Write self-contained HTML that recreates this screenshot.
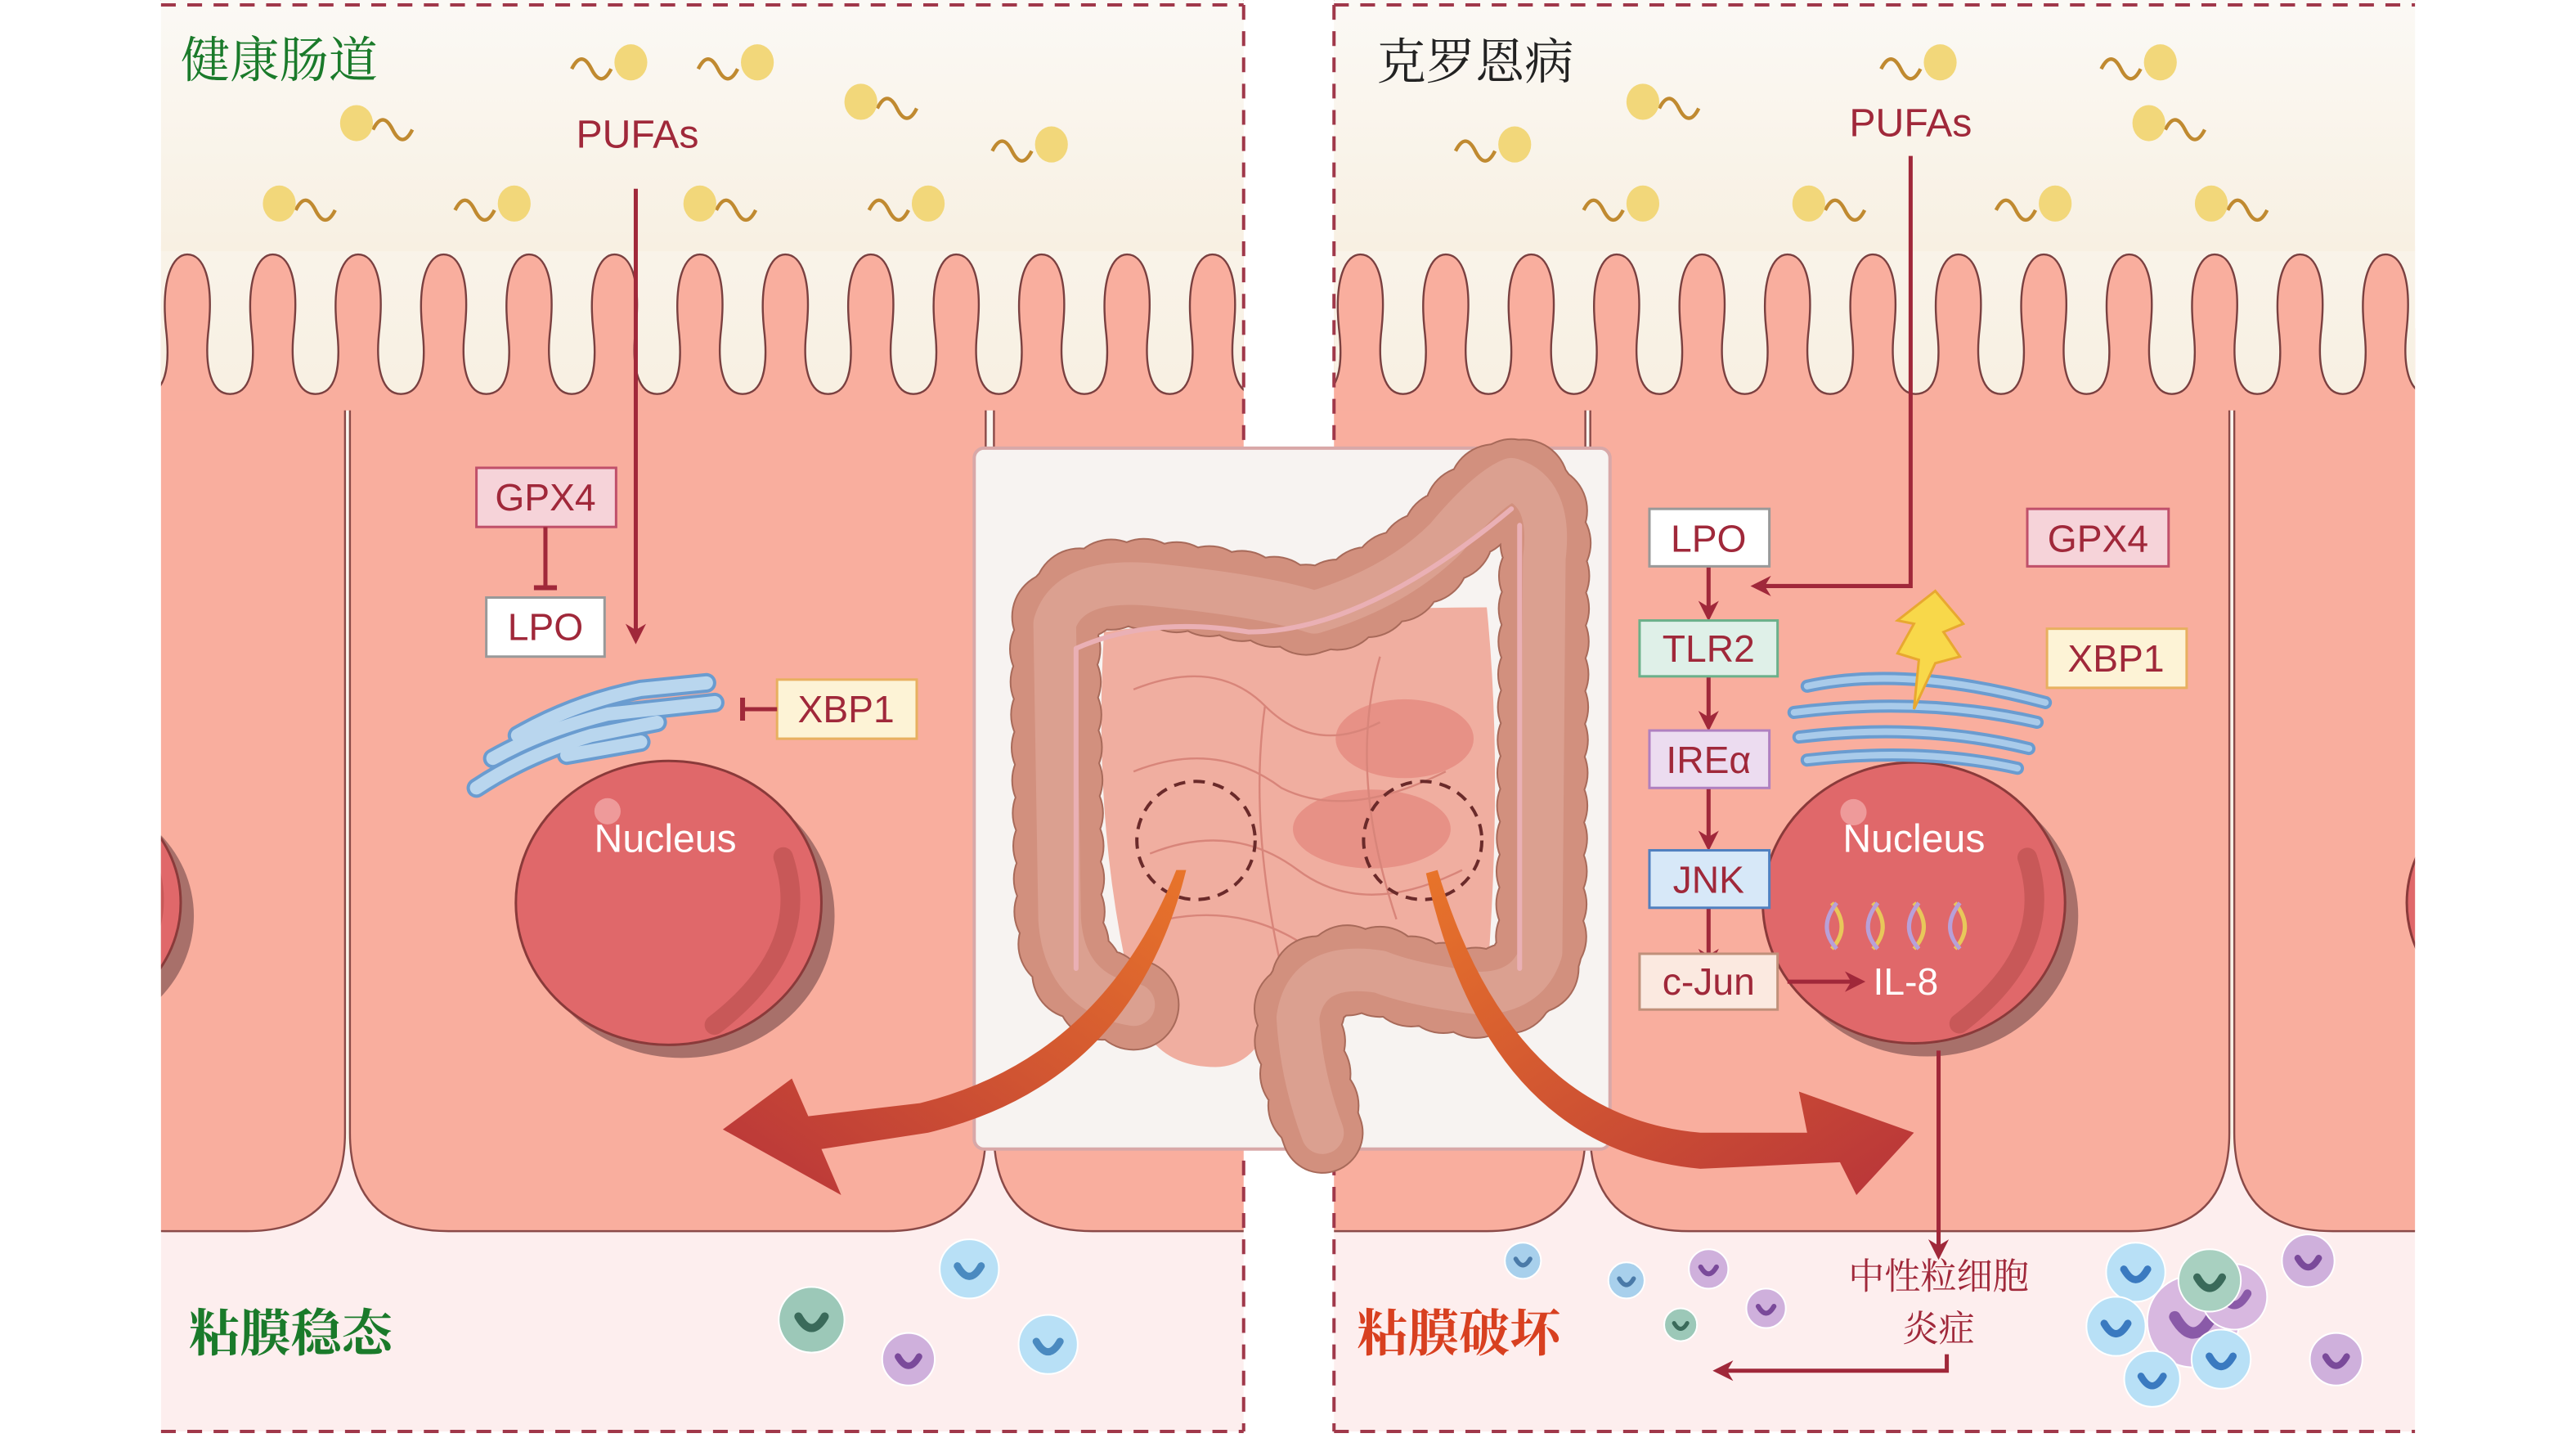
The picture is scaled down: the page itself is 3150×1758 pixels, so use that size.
<!DOCTYPE html>
<html><head><meta charset="utf-8">
<style>
html,body{margin:0;padding:0;background:#fff;}
svg{display:block;}
text{font-family:"Liberation Sans","Noto Sans CJK SC",sans-serif;}
.cn{font-family:"Noto Serif CJK SC","Noto Sans CJK SC",serif;}
</style></head>
<body>
<svg id="s" width="3150" height="1758" viewBox="0 0 1568 876" preserveAspectRatio="none" xmlns="http://www.w3.org/2000/svg">
<defs>
<clipPath id="cl"><rect x="98" y="0" width="659" height="872"/></clipPath>
<clipPath id="cr"><rect x="812" y="0" width="658" height="872"/></clipPath>
<linearGradient id="top" x1="0" y1="0" x2="0" y2="1"><stop offset="0" stop-color="#fbf9f5"/><stop offset="1" stop-color="#f8f0e2"/></linearGradient>
<linearGradient id="arL" x1="1" y1="0" x2="0" y2="1"><stop offset="0" stop-color="#e8742a"/><stop offset="1" stop-color="#b8343a"/></linearGradient>
<linearGradient id="arR" x1="0" y1="0" x2="1" y2="1"><stop offset="0" stop-color="#e8742a"/><stop offset="1" stop-color="#b8343a"/></linearGradient>
<marker id="ah" viewBox="0 0 10 10" refX="8" refY="5" markerWidth="5" markerHeight="5" orient="auto"><path d="M0,0 L10,5 L0,10 L3,5 Z" fill="#a0283a"/></marker>
</defs>
<g id="panels"></g>

<!-- center box -->
<rect x="593" y="273" width="387" height="427" rx="6" fill="#f7f3f1" stroke="#d8a8a8" stroke-width="2"/>
<!-- small intestine -->
<path d="M672,385 Q780,370 905,370 Q915,470 905,600 Q840,610 780,600 Q770,650 740,650 Q695,650 688,600 Q665,500 672,385Z" fill="#f0aea0"/>
<ellipse cx="855" cy="450" rx="42" ry="24" fill="#e58a80" opacity="0.8"/>
<ellipse cx="835" cy="505" rx="48" ry="24" fill="#e58a80" opacity="0.8"/>
<g fill="none" stroke="#d8857a" stroke-width="1.2">
<path d="M690,420 Q740,400 770,430 Q800,460 840,440"/><path d="M690,470 Q740,450 780,480 Q820,500 880,470"/><path d="M700,520 Q750,500 790,530 Q830,560 890,530"/><path d="M710,560 Q760,550 800,580"/><path d="M770,430 Q760,500 780,590"/><path d="M840,400 Q820,470 850,560"/>
</g>
<!-- colon -->
<g fill="none" stroke-linecap="round" stroke-linejoin="round">
<path id="col" d="M690,612 Q648,605 645,560 L642,380 Q650,352 700,356 Q770,363 800,373 Q850,358 880,328 Q905,298 920,292 Q945,300 940,340 L938,580 Q930,605 900,605 Q860,600 840,592 Q795,585 790,620 Q792,655 805,690" stroke="#a86a5a" stroke-width="50"/>
<path d="M690,612 Q648,605 645,560 L642,380 Q650,352 700,356 Q770,363 800,373 Q850,358 880,328 Q905,298 920,292 Q945,300 940,340 L938,580 Q930,605 900,605 Q860,600 840,592 Q795,585 790,620 Q792,655 805,690" stroke="#a86a5a" stroke-width="56" stroke-dasharray="0,20"/>
<path d="M690,612 Q648,605 645,560 L642,380 Q650,352 700,356 Q770,363 800,373 Q850,358 880,328 Q905,298 920,292 Q945,300 940,340 L938,580 Q930,605 900,605 Q860,600 840,592 Q795,585 790,620 Q792,655 805,690" stroke="#d2907e" stroke-width="48"/>
<path d="M690,612 Q648,605 645,560 L642,380 Q650,352 700,356 Q770,363 800,373 Q850,358 880,328 Q905,298 920,292 Q945,300 940,340 L938,580 Q930,605 900,605 Q860,600 840,592 Q795,585 790,620 Q792,655 805,690" stroke="#d2907e" stroke-width="54" stroke-dasharray="0,20"/>
<path d="M690,612 Q648,605 645,560 L642,380 Q650,352 700,356 Q770,363 800,373 Q850,358 880,328 Q905,298 920,292 Q945,300 940,340 L938,580 Q930,605 900,605 Q860,600 840,592 Q795,585 790,620 Q792,655 805,690" stroke="#dba090" stroke-width="26"/>
<path d="M655,590 L655,395 Q700,375 760,385 Q830,385 920,310 M925,320 L925,590" stroke="#eab0b5" stroke-width="3"/>
</g>
<circle cx="728" cy="512" r="36" fill="none" stroke="#6a2a2a" stroke-width="2" stroke-dasharray="7,5"/>
<circle cx="866" cy="512" r="36" fill="none" stroke="#6a2a2a" stroke-width="2" stroke-dasharray="7,5"/>
<!-- big curved arrows -->
<path d="M722,530 Q690,660 565,690 L500,700 L512,728 L440,688 L482,657 L492,680 L560,672 Q670,645 716,530Z" fill="url(#arL)"/>
<path d="M875,530 Q920,680 1035,690 L1100,690 L1095,665 L1165,690 L1130,728 L1120,708 L1035,712 Q905,700 868,532Z" fill="url(#arR)"/>

<!-- titles -->
<text x="110" y="47" class="cn" font-size="30" fill="#1a7a2a">健康肠道</text>
<text x="838" y="48" class="cn" font-size="30" fill="#222">克罗恩病</text>
<text x="115" y="823" class="cn" font-size="31" fill="#1a7a2a" font-weight="bold">粘膜稳态</text>
<text x="826" y="823" class="cn" font-size="31" fill="#d84020" font-weight="bold">粘膜破坏</text>

<!-- left pathway -->
<text x="388" y="90" font-size="24" fill="#a0283a" text-anchor="middle">PUFAs</text>
<line x1="387" y1="115" x2="387" y2="390" stroke="#a0283a" stroke-width="2.5" marker-end="url(#ah)"/>
<rect x="290" y="285" width="85" height="36" fill="#f6d3d9" stroke="#c0506a" stroke-width="1.5"/>
<text x="332" y="311" font-size="23" fill="#a0283a" text-anchor="middle">GPX4</text>
<line x1="332" y1="321" x2="332" y2="358" stroke="#a0283a" stroke-width="2.5"/><line x1="325" y1="358" x2="339" y2="358" stroke="#a0283a" stroke-width="3"/>
<rect x="296" y="364" width="72" height="36" fill="#fff" stroke="#999" stroke-width="1.5"/>
<text x="332" y="390" font-size="23" fill="#a0283a" text-anchor="middle">LPO</text>
<rect x="473" y="414" width="85" height="36" fill="#fdf3d6" stroke="#e8b060" stroke-width="1.5"/>
<text x="515" y="440" font-size="23" fill="#a0283a" text-anchor="middle">XBP1</text>
<line x1="473" y1="432" x2="452" y2="432" stroke="#a0283a" stroke-width="2.5"/><line x1="452" y1="425" x2="452" y2="439" stroke="#a0283a" stroke-width="3"/>
<!-- left ER -->
<g fill="none" stroke="#6a9cd0" stroke-width="12" stroke-linecap="round">
<path d="M290,480 Q320,460 360,448 L400,440"/><path d="M300,462 Q330,445 370,435 L435,428"/><path d="M315,448 Q350,428 390,420 L430,416"/><path d="M345,460 L390,452"/>
</g>
<g fill="none" stroke="#b9d6ee" stroke-width="8" stroke-linecap="round">
<path d="M290,480 Q320,460 360,448 L400,440"/><path d="M300,462 Q330,445 370,435 L435,428"/><path d="M315,448 Q350,428 390,420 L430,416"/><path d="M345,460 L390,452"/>
</g>

<!-- right pathway -->
<text x="1163" y="83" font-size="24" fill="#a0283a" text-anchor="middle">PUFAs</text>
<polyline points="1163,95 1163,357 1068,357" fill="none" stroke="#a0283a" stroke-width="2.5" marker-end="url(#ah)"/>
<g stroke="#a0283a" stroke-width="2.5" marker-end="url(#ah)">
<line x1="1040" y1="345" x2="1040" y2="376"/><line x1="1040" y1="412" x2="1040" y2="443"/><line x1="1040" y1="480" x2="1040" y2="516"/><line x1="1040" y1="553" x2="1040" y2="588"/><line x1="1088" y1="598" x2="1133" y2="598"/>
</g>
<rect x="1004" y="310" width="73" height="35" fill="#fff" stroke="#999" stroke-width="1.5"/><text x="1040" y="336" font-size="23" fill="#a0283a" text-anchor="middle">LPO</text>
<rect x="998" y="378" width="84" height="34" fill="#dff0e8" stroke="#6bb08a" stroke-width="1.5"/><text x="1040" y="403" font-size="23" fill="#a0283a" text-anchor="middle">TLR2</text>
<rect x="1004" y="445" width="73" height="35" fill="#ecdcf0" stroke="#b080c0" stroke-width="1.5"/><text x="1040" y="471" font-size="23" fill="#a0283a" text-anchor="middle">IREα</text>
<rect x="1004" y="518" width="73" height="35" fill="#d7e8f8" stroke="#5080c0" stroke-width="1.5"/><text x="1040" y="544" font-size="23" fill="#a0283a" text-anchor="middle">JNK</text>
<rect x="998" y="581" width="84" height="34" fill="#fbe9e0" stroke="#c0907a" stroke-width="1.5"/><text x="1040" y="606" font-size="23" fill="#a0283a" text-anchor="middle">c-Jun</text>
<rect x="1234" y="310" width="86" height="35" fill="#f6d3d9" stroke="#c0506a" stroke-width="1.5"/><text x="1277" y="336" font-size="23" fill="#a0283a" text-anchor="middle">GPX4</text>
<rect x="1246" y="383" width="85" height="36" fill="#fdf3d6" stroke="#e8b060" stroke-width="1.5"/><text x="1288" y="409" font-size="23" fill="#a0283a" text-anchor="middle">XBP1</text>
<!-- right ER -->
<g fill="none" stroke="#6a9cd0" stroke-width="8" stroke-linecap="round">
<path d="M1100,418 Q1160,405 1245,428"/><path d="M1092,434 Q1170,424 1240,440"/><path d="M1095,449 Q1170,440 1235,456"/><path d="M1100,463 Q1170,455 1228,468"/>
</g>
<g fill="none" stroke="#a9cbea" stroke-width="4" stroke-linecap="round">
<path d="M1100,418 Q1160,405 1245,428"/><path d="M1092,434 Q1170,424 1240,440"/><path d="M1095,449 Q1170,440 1235,456"/><path d="M1100,463 Q1170,455 1228,468"/>
</g>
<path d="M1178,360 L1195,380 L1183,385 L1193,400 L1178,404 L1165,432 L1168,402 L1155,398 L1165,380 L1155,378Z" fill="#f8d84a" stroke="#e8a830" stroke-width="1.5"/>

<!-- right bottom -->
<line x1="1180" y1="640" x2="1180" y2="765" stroke="#a0283a" stroke-width="2.5" marker-end="url(#ah)"/>
<text x="1180" y="785" class="cn" font-size="22" fill="#a0283a" text-anchor="middle">中性粒细胞</text>
<text x="1180" y="817" class="cn" font-size="22" fill="#a0283a" text-anchor="middle">炎症</text>
<polyline points="1185,825 1185,835 1045,835" fill="none" stroke="#a0283a" stroke-width="2.5" marker-end="url(#ah)"/>
</svg>
<script>
function cell(x0,x1){return `M${x0},200 L${x0},690 Q${x0},750 ${x0+60},750 L${x1-60},750 Q${x1},750 ${x1},690 L${x1},200`;}
function nucleus(cx,cy,r){return `<ellipse cx="${cx+8}" cy="${cy+8}" rx="${r}" ry="${r*0.93}" fill="#a8706a"/>
<ellipse cx="${cx}" cy="${cy}" rx="${r}" ry="${r*0.93}" fill="#e0686a" stroke="#8a3a3a" stroke-width="1.5"/>
<path d="M${cx+r*0.75},${cy-r*0.3} Q${cx+r*0.95},${cy+r*0.3} ${cx+r*0.3},${cy+r*0.8}" stroke="#c85858" stroke-width="12" fill="none" stroke-linecap="round"/>
<circle cx="${cx-r*0.4}" cy="${cy-r*0.6}" r="8" fill="#ee9a9a"/>`;}
function panel(clip,x0,x1,cells,nucs){let s=`<g clip-path="url(#${clip})">`;
 s+=`<rect x="${x0}" y="0" width="${x1-x0}" height="872" fill="url(#top)"/>`;
 s+=`<rect x="${x0}" y="700" width="${x1-x0}" height="172" fill="#fdeeee"/>`;
 cells.forEach(c=>{s+=`<path d="${cell(c[0],c[1])}" fill="#f9ae9e" stroke="#8a4a48" stroke-width="1.2"/>`;});
 let d=`M${x0-10},0 L${x0-10},240 `;let x=x0-10;
 while(x<x1+60){d+=`c 12,0 16,-15 13,-40 c -3,-30 4,-45 13,-45 c 10,0 16,15 13,45 c -3,25 2,40 13,40 `;x+=52;}
 d+=`L${x},0 Z`;
 s+=`<rect x="${x0}" y="150" width="${x1-x0}" height="100" fill="#f9ae9e"/>`;
 s+=`<path d="${d}" fill="url(#top)" stroke="#7a4040" stroke-width="1.2"/>`;
 s+=`<rect x="${x0}" y="0" width="${x1-x0}" height="153" fill="url(#top)"/>`;
 nucs.forEach(n=>s+=nucleus(n[0],n[1],n[2]));
 s+=`</g>`;return s;}
let P='';
P+=panel('cl',98,757,[[40,210],[213,600],[605,820]],[[407,550,93],[30,550,80]]);
P+=panel('cr',812,1470,[[750,965],[968,1357],[1360,1550]],[[1165,550,92],[1545,550,80]]);
P+=`<g stroke="#a0384a" stroke-width="2" stroke-dasharray="9,7" fill="none">
<line x1="98" y1="3" x2="757" y2="3"/><line x1="757" y1="3" x2="757" y2="872"/><line x1="98" y1="872" x2="757" y2="872"/>
<line x1="812" y1="3" x2="1470" y2="3"/><line x1="812" y1="3" x2="812" y2="872"/><line x1="812" y1="872" x2="1470" y2="872"/></g>`;
const bac=[[384,38,1],[461,38,1],[217,75,0],[640,88,1],[524,62,0],[170,124,0],[313,124,1],[426,124,0],[565,124,1],[1181,38,1],[1315,38,1],[1000,62,0],[922,88,1],[1308,75,0],[1000,124,1],[1101,124,0],[1251,124,1],[1346,124,0]];
bac.forEach(b=>{const [x,y,r]=b;const t=r?`M${x-36},${y+4} q6,-12 12,0 q6,12 12,0`:`M${x+10},${y+4} q6,-12 12,0 q6,12 12,0`;
 P+=`<path d="${t}" stroke="#c08a30" stroke-width="2.2" fill="none"/><ellipse cx="${x}" cy="${y}" rx="10" ry="11" fill="#f2d77a"/>`;});
P+=`<text x="405" y="519" font-size="24" fill="#fff" text-anchor="middle">Nucleus</text><text x="1165" y="519" font-size="24" fill="#fff" text-anchor="middle">Nucleus</text>`;
P+=`<g fill="none" stroke-width="2.5"><path d="M1115,550 q12,15 0,28 M1140,550 q12,15 0,28 M1165,550 q12,15 0,28 M1190,550 q12,15 0,28" stroke="#e8c85a"/><path d="M1118,550 q-12,15 0,28 M1143,550 q-12,15 0,28 M1168,550 q-12,15 0,28 M1193,550 q-12,15 0,28" stroke="#b8a0d8"/></g>`;
P+=`<text x="1160" y="606" font-size="23" fill="#fff" text-anchor="middle">IL-8</text>`;
function imm(x,y,r,f,c){return `<circle cx="${x}" cy="${y}" r="${r}" fill="${f}" stroke="#fff" stroke-width="1"/><path d="M${x-r*0.4},${y-r*0.1} q${r*0.4},${r*0.7} ${r*0.8},0" stroke="${c}" stroke-width="${r*0.25}" fill="none" stroke-linecap="round"/>`;}
const cells=[[494,804,20,'#9cc8b8','#3a6a5a'],[590,773,18,'#b8e0f6','#4a8ac0'],[638,819,18,'#b8e0f6','#4a8ac0'],[553,828,16,'#cfb0dc','#7a4a9a'],
[927,768,11,'#a8d0ec','#4a7aa8'],[990,780,11,'#a8d0ec','#4a7aa8'],[1040,773,12,'#cfb0dc','#7a4a9a'],[1075,797,12,'#cfb0dc','#7a4a9a'],[1023,807,10,'#9cc8b8','#3a6a5a'],
[1335,805,28,'#d8b8e0','#8a5aa8'],[1360,790,20,'#d8b8e0','#8a5aa8'],[1300,775,18,'#b8e0f6','#3a7ac0'],[1288,808,18,'#b8e0f6','#3a7ac0'],[1345,780,19,'#a8d0c0','#3a6a5a'],[1310,840,17,'#b8e0f6','#3a7ac0'],[1352,828,18,'#b8e0f6','#3a7ac0'],[1405,768,16,'#cfb0dc','#7a4a9a'],[1422,828,16,'#cfb0dc','#7a4a9a']];
cells.forEach(c=>P+=imm(...c));
document.getElementById('panels').innerHTML=P;
</script>
</body></html>
